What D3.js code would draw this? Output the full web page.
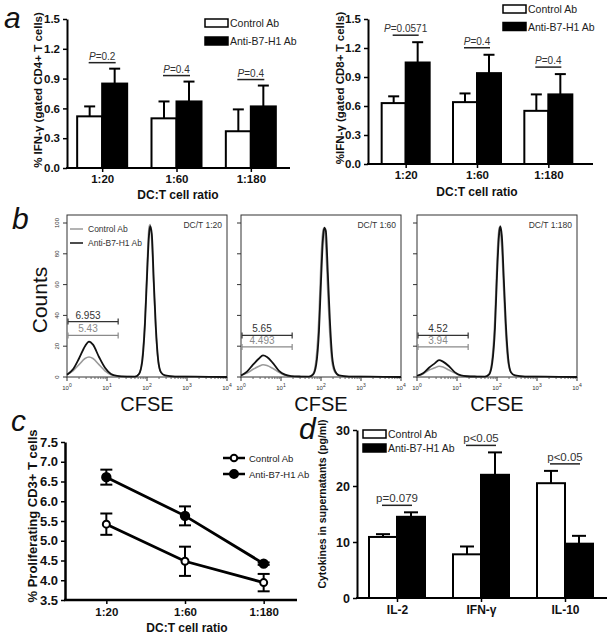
<!DOCTYPE html>
<html><head><meta charset="utf-8">
<script src="https://cdn.jsdelivr.net/npm/d3@7"></script>
<style>body{margin:0;background:#fff}svg{display:block}</style>
</head><body><svg id="c" width="614" height="640"></svg>
<script>
// ---------- DATA ----------
const ratios = ["1:20", "1:60", "1:180"];
const seriesNames = ["Control Ab", "Anti-B7-H1 Ab"];

const cd4Control = [0.52, 0.50, 0.37];
const cd4ControlSem = [0.10, 0.17, 0.22];
const cd4Anti = [0.85, 0.67, 0.62];
const cd4AntiSem = [0.15, 0.20, 0.21];
const cd4P = ["0.2", "0.4", "0.4"];

const cd8Control = [0.63, 0.64, 0.55];
const cd8ControlSem = [0.07, 0.09, 0.17];
const cd8Anti = [1.05, 0.94, 0.72];
const cd8AntiSem = [0.21, 0.19, 0.21];
const cd8P = ["0.0571", "0.4", "0.4"];
const ifnTicks = [0, 0.3, 0.6, 0.9, 1.2, 1.5];

const histTitles = ["DC/T 1:20", "DC/T 1:60", "DC/T 1:180"];
const cfseLog = [0, 0.15, 0.3, 0.45, 0.55, 0.65, 0.8, 0.95, 1.1, 1.25, 1.5, 1.7, 1.8, 1.88, 1.95, 2.0, 2.05, 2.08, 2.12, 2.17, 2.22, 2.28, 2.35, 2.45, 2.7, 3.2, 4.0];
const histAnti1 = [1.5, 5, 12, 20, 23, 21, 13, 6, 2, 0.8, 0.3, 0.2, 2, 10, 35, 65, 92, 98, 93, 62, 33, 11, 3, 1, 0.3, 0.2, 0];
const histControl1 = [1.5, 4, 8, 12, 13, 12, 8, 4, 1.5, 0.5, 0.3, 0.2, 2, 12, 38, 70, 97, 99, 88, 58, 30, 10, 3, 1, 0.3, 0.2, 0];
const histAnti2 = [1, 3.5, 8, 12, 14, 13, 9, 4, 1.5, 0.6, 0.3, 0.2, 1.5, 8, 30, 62, 90, 97, 95, 68, 38, 13, 4, 1, 0.3, 0.2, 0];
const histControl2 = [1, 2.5, 5, 7, 8, 7.5, 5.5, 3, 1, 0.5, 0.3, 0.2, 2, 12, 40, 75, 96, 96, 85, 55, 28, 9, 3, 1, 0.3, 0.2, 0];
const histAnti3 = [0.8, 2.5, 6, 9, 11, 10, 7, 3, 1, 0.5, 0.3, 0.2, 1.5, 9, 32, 66, 92, 98, 92, 64, 35, 12, 3, 1, 0.3, 0.2, 0];
const histControl3 = [0.8, 2, 4.5, 6, 7, 6.5, 4.5, 2.5, 0.8, 0.4, 0.3, 0.2, 2, 12, 40, 75, 97, 95, 84, 55, 28, 9, 3, 1, 0.3, 0.2, 0];
const gateAntiText = ["6.953", "5.65", "4.52"];
const gateControlText = ["5.43", "4.493", "3.94"];
const gateAntiLevel = [36, 27, 27];
const gateControlLevel = [27, 19.5, 19.5];
const gateRange = [1, 19];
const countTicks = [0, 20, 40, 60, 80, 100];
const cfseDecades = [0, 1, 2, 3, 4];

const prolifControl = [5.42, 4.48, 3.94];
const prolifControlSem = [0.27, 0.37, 0.22];
const prolifAnti = [6.61, 5.63, 4.42];
const prolifAntiSem = [0.19, 0.24, 0.03];
const prolifTicks = [3.5, 4.0, 4.5, 5.0, 5.5, 6.0, 6.5, 7.0, 7.5];

const cytokines = ["IL-2", "IFN-γ", "IL-10"];
const cytoControl = [10.9, 7.8, 20.5];
const cytoControlSem = [0.5, 1.4, 2.2];
const cytoAnti = [14.5, 22.0, 9.7];
const cytoAntiSem = [0.8, 4.0, 1.4];
const cytoP = ["p=0.079", "p<0.05", "p<0.05"];
const cytoTicks = [0, 10, 20, 30];

// ---------- DRAW ----------
const FONT = '"Liberation Sans", Arial, Helvetica, sans-serif';
const NARROW = '"Liberation Sans Narrow", "Liberation Sans", Arial, sans-serif';
const svg = d3.select("#c").attr("font-family", FONT);
svg.append("rect").attr("width", 614).attr("height", 640).attr("fill", "#fff");

function letter(t, x, y) {
  svg.append("text").attr("x", x).attr("y", y).attr("font-size", 30)
    .attr("font-style", "italic").attr("fill", "#111").text(t);
}
letter("a", 4, 28); letter("b", 12, 229); letter("c", 11, 431); letter("d", 299, 439);

function styleAxis(g, fs, w) {
  g.attr("font-family", FONT);
  g.select(".domain").attr("stroke-width", w);
  g.selectAll(".tick line").attr("stroke-width", 1.5);
  g.selectAll(".tick text").attr("font-size", fs).attr("font-weight", "bold").attr("fill", "#111");
}

function barChart(o) {
  const g = svg.append("g");
  const y = d3.scaleLinear().domain([0, o.max]).range([o.yBottom, o.yTop]);
  const x = d3.scalePoint().domain(o.cats).range(o.xRange).padding(0.5);
  const bw = o.barW;
  const ya = d3.axisLeft(y).tickValues(o.ticks).tickFormat(o.fmt).tickSize(4).tickSizeOuter(0).tickPadding(3);
  const yg = g.append("g").attr("transform", `translate(${o.xStart},0)`).call(ya);
  styleAxis(yg, o.tickFont, 2);
  g.append("line").attr("x1", o.xStart - 1).attr("x2", o.xEnd).attr("y1", o.yBottom).attr("y2", o.yBottom)
    .attr("stroke", "#000").attr("stroke-width", 2);
  const xa = d3.axisBottom(x).tickSize(4).tickSizeOuter(0).tickPadding(3);
  const xg = g.append("g").attr("transform", `translate(0,${o.yBottom})`).call(xa);
  styleAxis(xg, o.xTickFont, 0);
  xg.select(".domain").remove();

  o.cats.forEach((c, i) => {
    const cx = x(c);
    const series = [
      { v: o.ctrl[i], s: o.ctrlSem[i], fill: "#fff", x0: cx - bw },
      { v: o.anti[i], s: o.antiSem[i], fill: "#000", x0: cx }
    ];
    series.forEach(d => {
      const mid = d.x0 + bw / 2;
      g.append("line").attr("x1", mid).attr("x2", mid).attr("y1", y(d.v)).attr("y2", y(d.v + d.s))
        .attr("stroke", "#000").attr("stroke-width", 2);
      g.append("line").attr("x1", mid - o.cap / 2).attr("x2", mid + o.cap / 2)
        .attr("y1", y(d.v + d.s)).attr("y2", y(d.v + d.s)).attr("stroke", "#000").attr("stroke-width", 2);
      g.append("rect").attr("x", d.x0).attr("y", y(d.v)).attr("width", bw)
        .attr("height", o.yBottom - y(d.v)).attr("fill", d.fill).attr("stroke", "#000").attr("stroke-width", 2);
    });
    const top = Math.min(y(series[0].v + series[0].s), y(series[1].v + series[1].s));
    const ly = top - o.pGap;
    g.append("line").attr("x1", cx - bw / 2 - 1).attr("x2", cx + bw / 2 + 1).attr("y1", ly).attr("y2", ly)
      .attr("stroke", "#222").attr("stroke-width", 1.5);
    const t = g.append("text").attr("x", cx).attr("y", ly - 3).attr("text-anchor", "middle")
      .attr("font-size", o.pFont).attr("font-family", NARROW).attr("fill", "#333");
    if (o.pItalic) {
      t.append("tspan").attr("font-style", "italic").text("P");
      t.append("tspan").text("=" + o.pLabels[i]);
    } else t.text(o.pLabels[i]);
  });

  // legend
  seriesNames.forEach((n, k) => {
    const ly = o.legY + k * o.legStep;
    g.append("rect").attr("x", o.legX).attr("y", ly).attr("width", 23).attr("height", 8)
      .attr("fill", k ? "#000" : "#fff").attr("stroke", "#000").attr("stroke-width", 1.5);
    g.append("text").attr("x", o.legX + 25).attr("y", ly + 8).attr("font-size", o.legFont)
      .attr("font-family", NARROW).attr("fill", "#222").text(n);
  });
  // titles
  g.append("text").attr("transform", `translate(${o.yTitleX},${o.yTitleY}) rotate(-90)`)
    .attr("text-anchor", "middle").attr("font-size", o.yTitleFont).attr("font-weight", "bold")
    .attr("fill", "#111").text(o.yTitle);
  if (o.xTitle) g.append("text").attr("x", o.xTitleX).attr("y", o.xTitleY).attr("text-anchor", "middle")
    .attr("font-size", 12).attr("font-weight", "bold").attr("fill", "#111").text(o.xTitle);
}

barChart({
  cats: ratios, ctrl: cd4Control, ctrlSem: cd4ControlSem, anti: cd4Anti, antiSem: cd4AntiSem,
  max: 1.5, ticks: ifnTicks, fmt: d3.format(".1f"), yBottom: 168, yTop: 19,
  xRange: [65, 288], xStart: 67, xEnd: 290, barW: 25, cap: 11, pGap: 6, pFont: 10, pItalic: true,
  pLabels: cd4P, tickFont: 11.5, xTickFont: 11.5, legX: 205, legY: 19, legStep: 18, legFont: 10.5,
  yTitle: "% IFN-γ (gated CD4+ T cells)", yTitleX: 42, yTitleY: 90, yTitleFont: 11.5,
  xTitle: "DC:T cell ratio", xTitleX: 178, xTitleY: 199
});
barChart({
  cats: ratios, ctrl: cd8Control, ctrlSem: cd8ControlSem, anti: cd8Anti, antiSem: cd8AntiSem,
  max: 1.5, ticks: ifnTicks, fmt: d3.format(".1f"), yBottom: 164, yTop: 19,
  xRange: [370, 584], xStart: 368, xEnd: 593, barW: 24, cap: 11, pGap: 7, pFont: 10, pItalic: true,
  pLabels: cd8P, tickFont: 11.5, xTickFont: 11.5, legX: 503, legY: 5, legStep: 17.5, legFont: 10.5,
  yTitle: "%IFN-γ (gated CD8+ T cells)", yTitleX: 344, yTitleY: 88, yTitleFont: 11.5,
  xTitle: "DC:T cell ratio", xTitleX: 477, xTitleY: 196
});
barChart({
  cats: cytokines, ctrl: cytoControl, ctrlSem: cytoControlSem, anti: cytoAnti, antiSem: cytoAntiSem,
  max: 30, ticks: cytoTicks, fmt: d3.format("d"), yBottom: 598, yTop: 430,
  xRange: [355, 607], xStart: 357, xEnd: 607, barW: 28, cap: 14, pGap: 7, pFont: 11.5, pItalic: false,
  pLabels: cytoP, tickFont: 12.5, xTickFont: 12, legX: 363, legY: 430, legStep: 14, legFont: 10.5,
  yTitle: "Cytokines in supernatants (pg/ml)", yTitleX: 326, yTitleY: 504, yTitleFont: 10.5
});

// ---------- Panel b histograms ----------
const histAnti = [histAnti1, histAnti2, histAnti3];
const histControl = [histControl1, histControl2, histControl3];
const hx = [67, 241, 417];
histTitles.forEach((title, i) => {
  const px = hx[i], W = 160;
  const g = svg.append("g");
  const xs = d3.scaleLog().domain([1, 1e4]).range([px, px + W]);
  const ys = d3.scaleLinear().domain([0, 100]).range([377, 223]);
  g.append("rect").attr("x", px).attr("y", 215).attr("width", W).attr("height", 162)
    .attr("fill", "none").attr("stroke", "#333").attr("stroke-width", 1);
  countTicks.forEach(t => {
    g.append("line").attr("x1", px - 4).attr("x2", px).attr("y1", ys(t)).attr("y2", ys(t)).attr("stroke", "#333");
    if (i === 0) g.append("text").attr("transform", `translate(${px - 8},${ys(t)}) rotate(-90)`)
      .attr("text-anchor", "middle").attr("font-size", 6).attr("fill", "#333").text(t);
  });
  const minor = [];
  for (let d = 0; d < 4; d++) for (let m = 2; m <= 9; m++) minor.push(m * Math.pow(10, d));
  minor.forEach(v => g.append("line").attr("x1", xs(v)).attr("x2", xs(v)).attr("y1", 377).attr("y2", 379).attr("stroke", "#666"));
  cfseDecades.forEach(d => {
    const v = Math.pow(10, d);
    g.append("line").attr("x1", xs(v)).attr("x2", xs(v)).attr("y1", 377).attr("y2", 381).attr("stroke", "#333");
    const t = g.append("text").attr("x", xs(v)).attr("y", 390).attr("text-anchor", "middle")
      .attr("font-size", 6).attr("fill", "#333");
    t.append("tspan").text("10");
    t.append("tspan").attr("dy", -3).attr("font-size", 5).text(d);
  });
  const line = d3.line().x((d, j) => xs(Math.pow(10, cfseLog[j]))).y(d => ys(d)).curve(d3.curveMonotoneX);
  g.append("path").attr("d", line(histControl[i])).attr("fill", "none").attr("stroke", "#9a9a9a").attr("stroke-width", 1.6);
  g.append("path").attr("d", line(histAnti[i])).attr("fill", "none").attr("stroke", "#111").attr("stroke-width", 1.8);
  g.append("text").attr("x", px + W - 5).attr("y", 228).attr("text-anchor", "end")
    .attr("font-size", 8.5).attr("font-family", NARROW).attr("fill", "#333").text(title);
  // gates
  [[gateAntiLevel[i], gateAntiText[i], "#333"], [gateControlLevel[i], gateControlText[i], "#8a8a8a"]].forEach(([lv, txt, col]) => {
    const yy = ys(lv), x1 = xs(gateRange[0]) + 1, x2 = xs(gateRange[1]);
    g.append("line").attr("x1", x1).attr("x2", x2).attr("y1", yy).attr("y2", yy).attr("stroke", col).attr("stroke-width", 1.2);
    [x1, x2].forEach(xx => g.append("line").attr("x1", xx).attr("x2", xx).attr("y1", yy - 3).attr("y2", yy + 3).attr("stroke", col).attr("stroke-width", 1.2));
    g.append("text").attr("x", x1 + 20).attr("y", yy - 3).attr("text-anchor", "middle")
      .attr("font-size", 10).attr("font-family", NARROW).attr("fill", col).text(txt);
  });
  if (i === 0) {
    seriesNames.forEach((n, k) => {
      const yy = 229 + k * 14;
      g.append("line").attr("x1", px + 3).attr("x2", px + 16).attr("y1", yy).attr("y2", yy)
        .attr("stroke", k ? "#111" : "#9a9a9a").attr("stroke-width", 1.5);
      g.append("text").attr("x", px + 21).attr("y", yy + 3).attr("font-size", 8.5)
        .attr("font-family", NARROW).attr("fill", "#333").text(n);
    });
  }
  g.append("text").attr("x", px + W / 2).attr("y", 411).attr("text-anchor", "middle")
    .attr("font-size", 20).attr("fill", "#111").text("CFSE");
});
svg.append("text").attr("transform", "translate(47,300) rotate(-90)").attr("text-anchor", "middle")
  .attr("font-size", 21).attr("fill", "#111").text("Counts");

// ---------- Panel c line chart ----------
(function () {
  const g = svg.append("g");
  const y = d3.scaleLinear().domain([3.5, 7.5]).range([600, 442]);
  const x = d3.scalePoint().domain(ratios).range([67, 303]).padding(0.5);
  const ya = d3.axisLeft(y).tickValues(prolifTicks).tickFormat(d3.format(".1f")).tickSize(4).tickSizeOuter(0).tickPadding(3);
  const yg = g.append("g").attr("transform", "translate(65,0)").call(ya);
  styleAxis(yg, 13, 2.5);
  g.append("line").attr("x1", 64).attr("x2", 297).attr("y1", 600).attr("y2", 600).attr("stroke", "#000").attr("stroke-width", 2.5);
  const xg = g.append("g").attr("transform", "translate(0,600)").call(d3.axisBottom(x).tickSize(4).tickSizeOuter(0).tickPadding(4));
  styleAxis(xg, 11.5, 0); xg.select(".domain").remove();
  const sets = [
    { v: prolifControl, s: prolifControlSem, fill: "#fff" },
    { v: prolifAnti, s: prolifAntiSem, fill: "#000" }
  ];
  const line = d3.line().x((d, i) => x(ratios[i])).y(d => y(d));
  sets.forEach(st => {
    g.append("path").attr("d", line(st.v)).attr("fill", "none").attr("stroke", "#000").attr("stroke-width", 2.8);
    st.v.forEach((v, i) => {
      const cx = x(ratios[i]);
      g.append("line").attr("x1", cx).attr("x2", cx).attr("y1", y(v - st.s[i])).attr("y2", y(v + st.s[i])).attr("stroke", "#000").attr("stroke-width", 2);
      [v - st.s[i], v + st.s[i]].forEach(e => g.append("line").attr("x1", cx - 6).attr("x2", cx + 6)
        .attr("y1", y(e)).attr("y2", y(e)).attr("stroke", "#000").attr("stroke-width", 2));
      g.append("circle").attr("cx", cx).attr("cy", y(v)).attr("r", st.fill === "#fff" ? 3.5 : 4.2)
        .attr("fill", st.fill).attr("stroke", "#000").attr("stroke-width", 2);
    });
  });
  seriesNames.forEach((n, k) => {
    const yy = 458 + k * 16;
    g.append("line").attr("x1", 223).attr("x2", 245).attr("y1", yy).attr("y2", yy).attr("stroke", "#000").attr("stroke-width", 2.5);
    g.append("circle").attr("cx", 234).attr("cy", yy).attr("r", k ? 4 : 3.3).attr("fill", k ? "#000" : "#fff").attr("stroke", "#000").attr("stroke-width", 2);
    g.append("text").attr("x", 249).attr("y", yy + 3.5).attr("font-size", 9.5).attr("font-family", NARROW).attr("fill", "#222").text(n);
  });
  g.append("text").attr("transform", "translate(37,516) rotate(-90)").attr("text-anchor", "middle")
    .attr("font-size", 13).attr("font-weight", "bold").attr("fill", "#111").text("% Proliferating CD3+ T cells");
  g.append("text").attr("x", 187).attr("y", 632).attr("text-anchor", "middle")
    .attr("font-size", 12).attr("font-weight", "bold").attr("fill", "#111").text("DC:T cell ratio");
})();
</script></body></html>
